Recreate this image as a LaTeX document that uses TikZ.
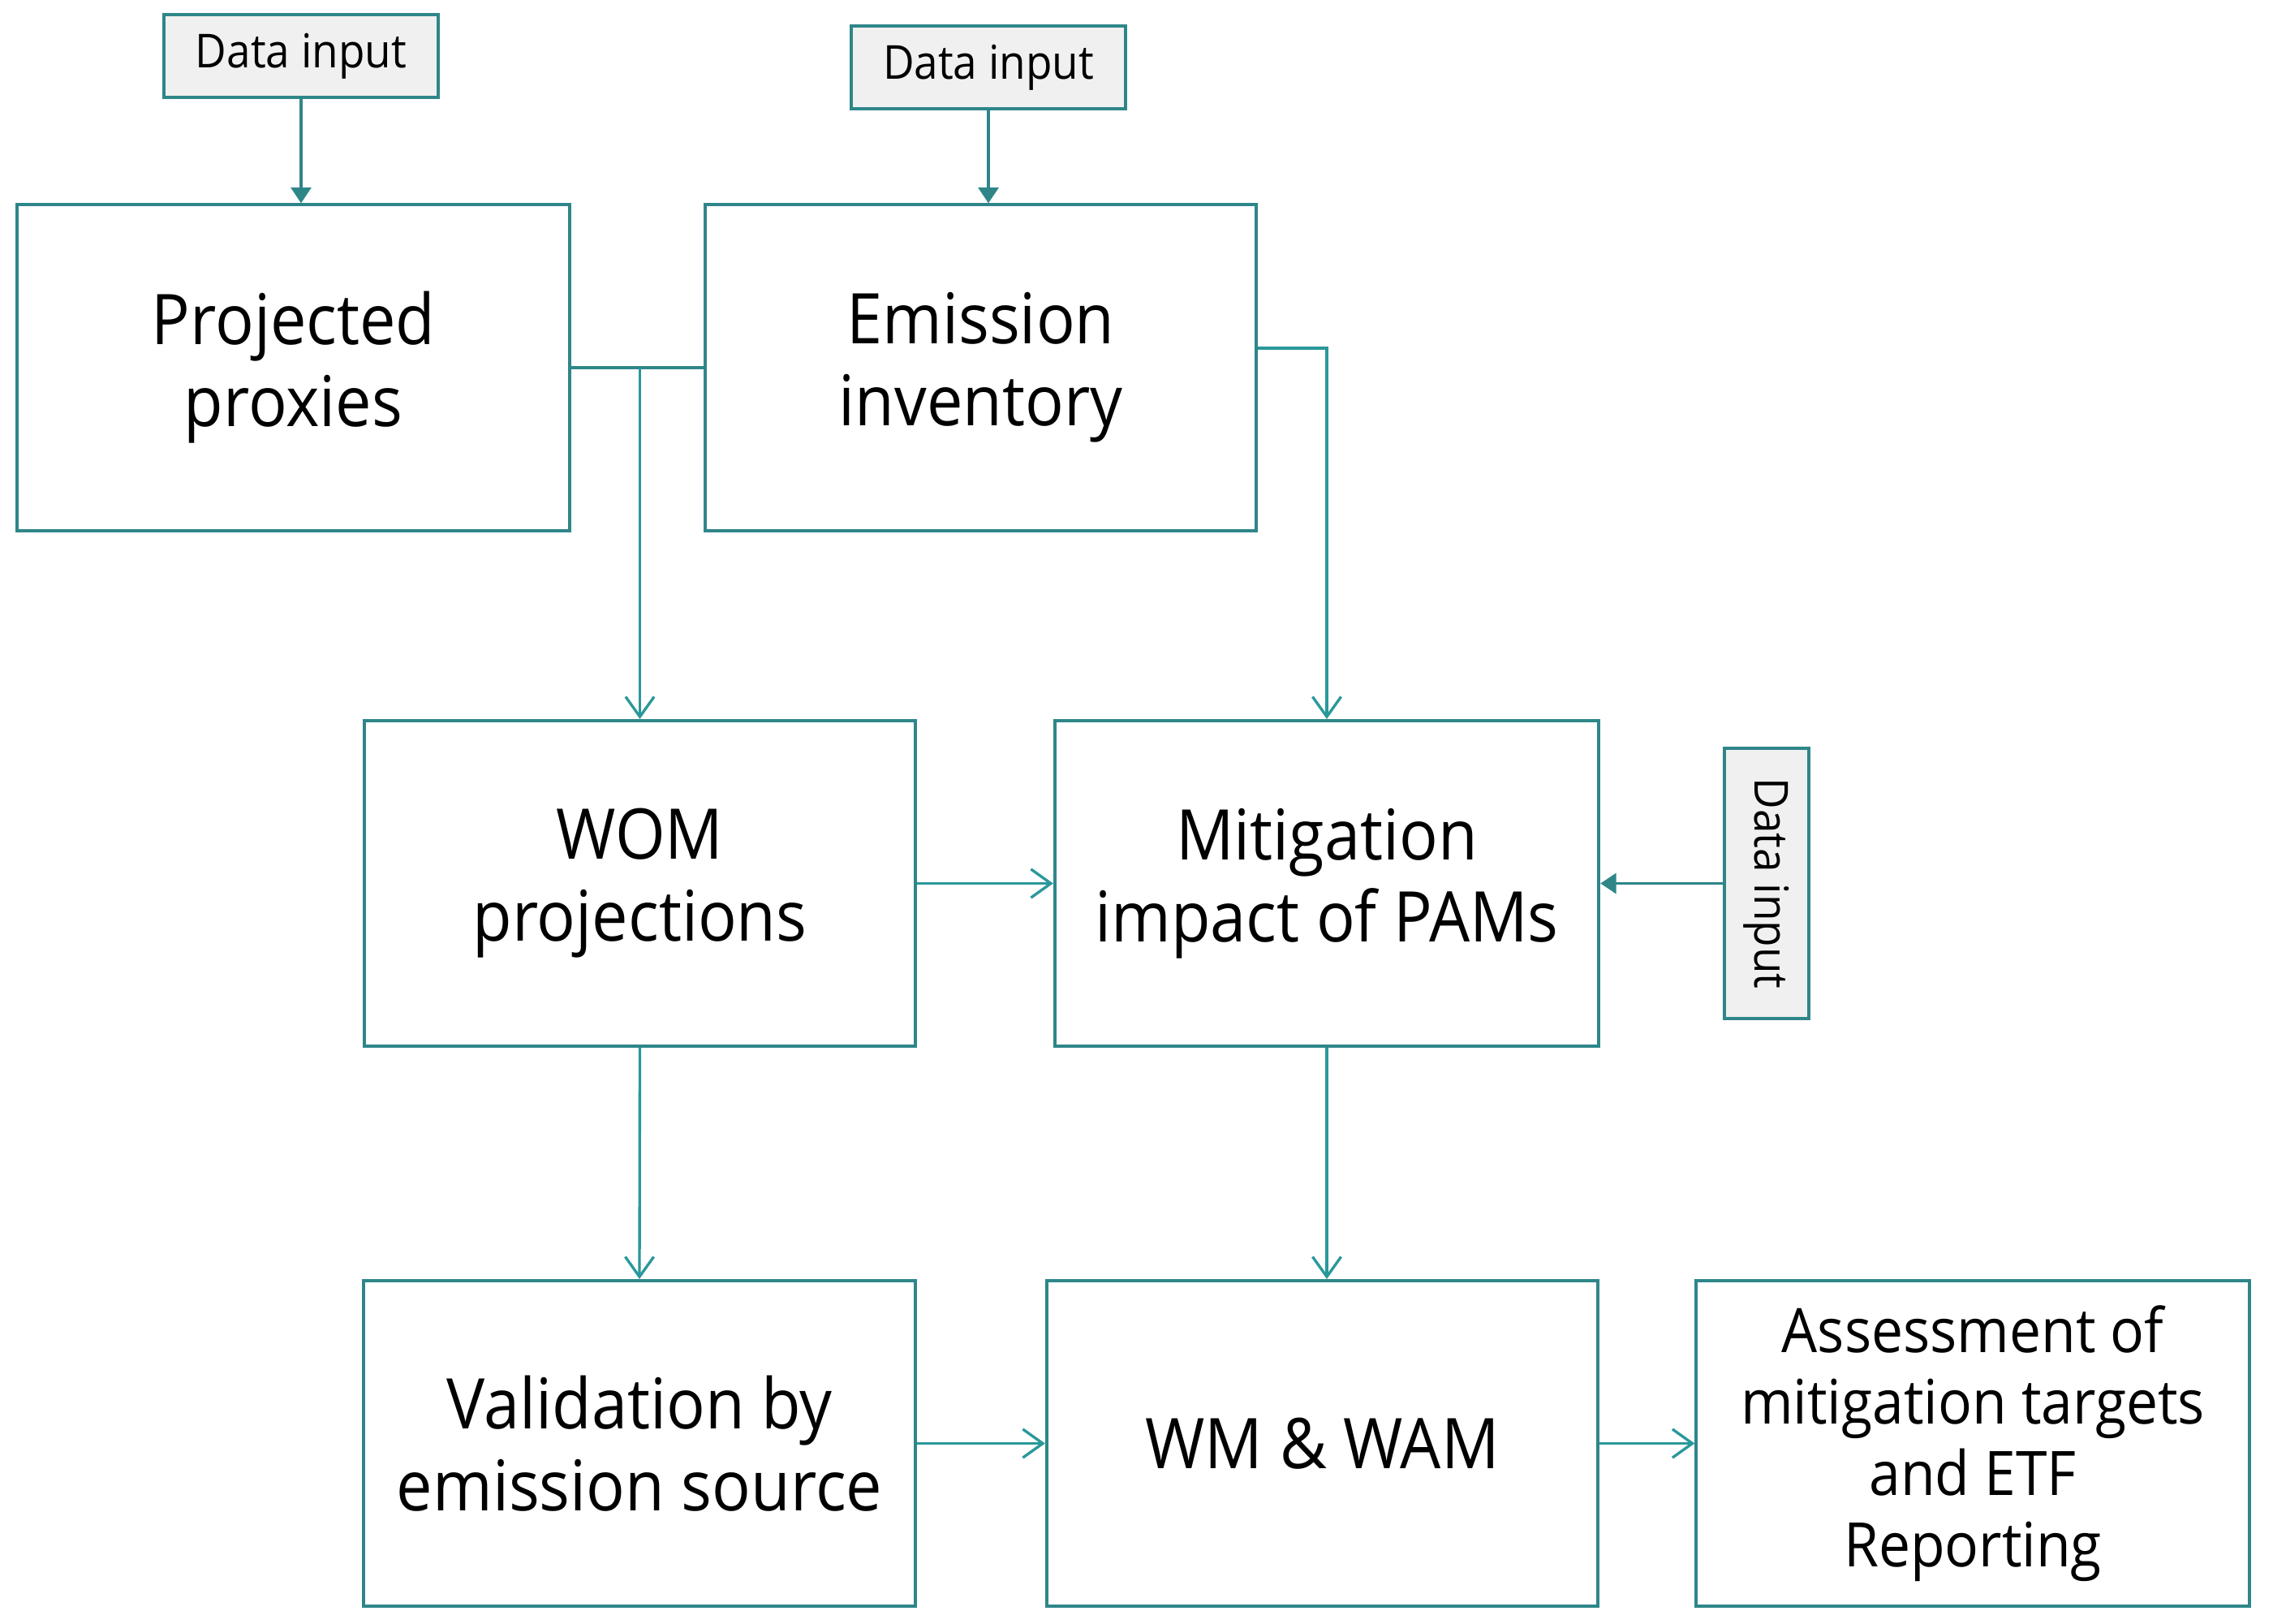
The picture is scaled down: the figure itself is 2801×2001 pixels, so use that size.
\documentclass[tikz,border=0pt]{standalone}
\usepackage{fontspec}
\setmainfont{Open Sans}[FakeStretch=0.92]
\usetikzlibrary{arrows.meta}
\definecolor{boxc}{RGB}{46,134,137}
\definecolor{linec}{RGB}{42,152,155}
\definecolor{infill}{RGB}{240,240,240}
\begin{document}
\begin{tikzpicture}[x=0.01cm,y=-0.01cm,
  box/.style={draw=boxc, line width=1.1pt, inner sep=0pt, align=center,
    font=\fontsize{24.5}{28.7}\selectfont, minimum width=6.79cm, minimum height=4.01cm},
  inbox/.style={draw=boxc, fill=infill, line width=1.1pt, inner sep=0pt,
    font=\fontsize{16.4}{19}\selectfont},
  flow/.style={draw=linec, line width=0.95pt, -{Straight Barb[length=7pt,width=10pt]}},
  feed/.style={draw=boxc, line width=1.1pt, -{Triangle[length=5.5pt,width=7pt]}},
  plainline/.style={draw=boxc, line width=1.1pt}]
\fill[white] (0,0) rectangle (2801,2001);
\useasboundingbox (0,0) rectangle (2801,2001);

\node[inbox, minimum width=3.38cm, minimum height=1.02cm] (di1) at (371,69) {Data input};
\node[inbox, minimum width=3.38cm, minimum height=1.02cm] (di2) at (1218,83) {Data input};
\node[inbox, minimum width=1.04cm, minimum height=3.33cm] (di3) at (2177,1088.5) {\rotatebox{-90}{Data input}};

\node[box, minimum width=6.81cm] (pp) at (361.5,453) {Projected\\proxies};
\node[box] (ei) at (1208.5,453) {Emission\\inventory};
\node[box] (wom) at (788.5,1088.5) {WOM\\projections};
\node[box, minimum width=6.70cm] (mit) at (1635,1088.5) {Mitigation\\impact of PAMs};
\node[box] (val) at (788,1778.5) {Validation by\\emission source};
\node[box] (wm) at (1629.5,1778.5) {WM \& WAM};
\node[box, minimum width=6.81cm, font=\fontsize{21.5}{25}\selectfont] (as) at (2431,1778.5)
  {Assessment of\\mitigation targets\\and ETF\\Reporting};

\draw[feed] (di1.south) -- (di1.south |- pp.north);
\draw[feed] (di2.south) -- (di2.south |- ei.north);
\draw[feed] (di3.west) -- (mit.east);

\draw[plainline] (pp.east) -- (ei.west);
\draw[flow] (pp.east -| wom.north) -- (wom.north);
\draw[flow] ([yshift=6.8pt]ei.east) -| (mit.north);
\draw[flow] (wom.east) -- (mit.west);
\draw[flow] (wom.south) -- (val.north);
\draw[flow] (mit.south) -- (mit.south |- wm.north);
\draw[flow] (val.east) -- (wm.west);
\draw[flow] (wm.east) -- (as.west);
\end{tikzpicture}
\end{document}
